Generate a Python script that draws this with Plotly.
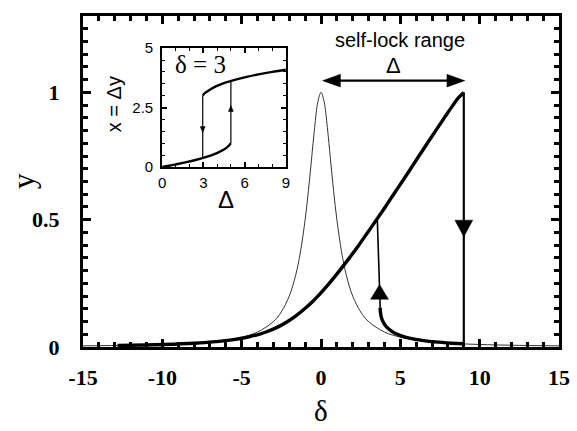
import plotly.graph_objects as go

# ---------------- data ----------------
# thin curve: linear response (main panel)
lor_delta = [-15, -12, -10, -8, -6, -5, -4, -3, -2.5, -2, -1.6, -1.3, -1, -0.8, -0.6, -0.4, -0.2, 0,
             0.2, 0.4, 0.6, 0.8, 1, 1.3, 1.6, 2, 2.5, 3, 4, 5, 6, 8, 10, 12, 15]
lor_y = [0.0044, 0.0069, 0.0099, 0.0154, 0.027, 0.0385, 0.0588, 0.100, 0.138, 0.200, 0.281, 0.372, 0.500,
         0.610, 0.735, 0.862, 0.962, 1.000,
         0.962, 0.862, 0.735, 0.610, 0.500, 0.372, 0.281, 0.200, 0.138, 0.100, 0.0588, 0.0385, 0.027,
         0.0154, 0.0099, 0.0069, 0.0044]

# thick curve: upper (self-locked) branch
upper_delta = [-12.82, -11.06, -9.86, -7.97, -6.82, -5.42, -4.54, -3.91, -3.42, -2.67, -2.10, -1.63, -1.03,
               -0.51, -0.05, 0.52, 1.17, 1.79, 2.38, 2.94, 3.50, 4.05, 4.58, 5.12, 5.65, 6.17, 6.70, 7.23,
               7.77, 8.32, 8.68, 9.0]
upper_y = [0.006, 0.008, 0.010, 0.015, 0.020, 0.030, 0.040, 0.050, 0.060, 0.080, 0.100, 0.120, 0.150,
           0.180, 0.210, 0.250, 0.300, 0.350, 0.400, 0.450, 0.500, 0.550, 0.600, 0.650, 0.700, 0.750,
           0.800, 0.850, 0.900, 0.950, 0.980, 1.000]

# thick curve: lower branch
lower_delta = [3.73, 3.74, 3.79, 3.90, 4.11, 4.50, 4.81, 5.26, 5.96, 6.47, 7.18, 8.24, 9.0]
lower_y = [0.155, 0.140, 0.120, 0.100, 0.080, 0.060, 0.050, 0.040, 0.030, 0.025, 0.020, 0.015, 0.0125]

# jumps
jump_up_delta = [3.73, 3.55]
jump_up_y = [0.155, 0.500]
drop_delta = [9.0, 9.0]
drop_y = [1.0, 0.0]

# arrow marks (tip positions)
arrow_up_tip = (3.69, 0.245)
arrow_down_tip = (9.0, 0.433)
range_arrow = (0.1, 9.06, 1.046)   # from, to, level

# inset: x = Delta*y versus Delta at delta = 3
inset_low_D = [0, 0.49, 0.99, 1.77, 2.49, 3.10, 3.63, 4.06, 4.67, 5.0]
inset_low_x = [0, 0.05, 0.107, 0.2, 0.3, 0.4, 0.5, 0.6, 0.8, 1.0]
inset_up_D = [2.95, 3.05, 3.33, 3.94, 4.90, 6.23, 8.0, 9.0]
inset_up_x = [3.0, 3.08, 3.2, 3.4, 3.6, 3.8, 4.0, 4.09]
inset_down_D = [2.95, 2.95]
inset_down_x = [3.0, 0.4]
inset_jump_D = [5.0, 5.0]
inset_jump_x = [1.0, 3.6]
inset_arrow_down_tip = (2.95, 1.45)
inset_arrow_up_tip = (5.0, 2.58)

# tick labels
x_ticks = [-15, -10, -5, 0, 5, 10, 15]
x_ticktext = ["-15", "-10", "-5", "0", "5", "10", "15"]
y_ticks = [0, 0.5, 1]
y_ticktext = ["0", "0.5", "1"]
inset_x_ticks = [0, 3, 6, 9]
inset_x_ticktext = ["0", "3", "6", "9"]
inset_y_ticks = [0, 2.5, 5]
inset_y_ticktext = ["0", "2.5", "5"]

# ---------------- geometry ----------------
W, H = 577, 431
L, R, T, B = 83, 13, 7, 84
plot_w, plot_h = W - L - R, H - T - B
XR = (-15, 15)
YR = (0, 1.3)
sx = plot_w / (XR[1] - XR[0])
sy = plot_h / (YR[1] - YR[0])

inset_px = (163, 288, 40, 162)  # left, right, top, bottom
ix0 = (inset_px[0] - L) / plot_w
ix1 = (inset_px[1] - L) / plot_w
iy0 = (H - B - inset_px[3]) / plot_h
iy1 = (H - B - inset_px[2]) / plot_h
IXR = (0, 9)
IYR = (0, 5)
isx = (inset_px[1] - inset_px[0]) / (IXR[1] - IXR[0])
isy = (inset_px[3] - inset_px[2]) / (IYR[1] - IYR[0])


def tri(tip, direction, length_px, width_px, scx, scy, xref, yref):
    tx, ty = tip
    if direction == "up":
        pts = [(tx, ty), (tx - width_px / 2 / scx, ty - length_px / scy), (tx + width_px / 2 / scx, ty - length_px / scy)]
    elif direction == "down":
        pts = [(tx, ty), (tx - width_px / 2 / scx, ty + length_px / scy), (tx + width_px / 2 / scx, ty + length_px / scy)]
    elif direction == "left":
        pts = [(tx, ty), (tx + length_px / scx, ty + width_px / 2 / scy), (tx + length_px / scx, ty - width_px / 2 / scy)]
    else:
        pts = [(tx, ty), (tx - length_px / scx, ty + width_px / 2 / scy), (tx - length_px / scx, ty - width_px / 2 / scy)]
    path = "M{},{} L{},{} L{},{} Z".format(pts[0][0], pts[0][1], pts[1][0], pts[1][1], pts[2][0], pts[2][1])
    return dict(type="path", path=path, xref=xref, yref=yref, fillcolor="black",
                line=dict(color="black", width=0.5))


fig = go.Figure()
blk = "black"
fig.add_trace(go.Scatter(x=lor_delta, y=lor_y, mode="lines", line=dict(color="#333333", width=1, shape="spline"),
                         showlegend=False, hoverinfo="skip"))
fig.add_trace(go.Scatter(x=upper_delta, y=upper_y, mode="lines", line=dict(color=blk, width=3.4, shape="spline"),
                         showlegend=False, hoverinfo="skip"))
fig.add_trace(go.Scatter(x=lower_delta, y=lower_y, mode="lines", line=dict(color=blk, width=3.4, shape="spline"),
                         showlegend=False, hoverinfo="skip"))
fig.add_trace(go.Scatter(x=jump_up_delta, y=jump_up_y, mode="lines", line=dict(color=blk, width=1.6),
                         showlegend=False, hoverinfo="skip"))
fig.add_trace(go.Scatter(x=drop_delta, y=drop_y, mode="lines", line=dict(color=blk, width=2.2),
                         showlegend=False, hoverinfo="skip"))
fig.add_trace(go.Scatter(x=[range_arrow[0] + 0.5, range_arrow[1] - 0.5], y=[range_arrow[2], range_arrow[2]],
                         mode="lines", line=dict(color=blk, width=2.2), showlegend=False, hoverinfo="skip"))

# inset traces
fig.add_trace(go.Scatter(x=inset_low_D, y=inset_low_x, xaxis="x2", yaxis="y2", mode="lines",
                         line=dict(color=blk, width=2.4, shape="spline"), showlegend=False, hoverinfo="skip"))
fig.add_trace(go.Scatter(x=inset_up_D, y=inset_up_x, xaxis="x2", yaxis="y2", mode="lines",
                         line=dict(color=blk, width=2.4, shape="spline"), showlegend=False, hoverinfo="skip"))
fig.add_trace(go.Scatter(x=inset_down_D, y=inset_down_x, xaxis="x2", yaxis="y2", mode="lines",
                         line=dict(color=blk, width=1.2), showlegend=False, hoverinfo="skip"))
fig.add_trace(go.Scatter(x=inset_jump_D, y=inset_jump_x, xaxis="x2", yaxis="y2", mode="lines",
                         line=dict(color=blk, width=1.2), showlegend=False, hoverinfo="skip"))

shapes = [
    tri(arrow_up_tip, "up", 15, 18, sx, sy, "x", "y"),
    tri(arrow_down_tip, "down", 17, 18, sx, sy, "x", "y"),
    tri((range_arrow[0], range_arrow[2]), "left", 18, 13, sx, sy, "x", "y"),
    tri((range_arrow[1], range_arrow[2]), "right", 18, 13, sx, sy, "x", "y"),
    tri(inset_arrow_down_tip, "down", 6, 5, isx, isy, "x2", "y2"),
    tri(inset_arrow_up_tip, "up", 6, 5, isx, isy, "x2", "y2"),
]

serif = "Liberation Serif"
sans = "Liberation Sans"

main_axis = dict(showline=True, linecolor=blk, linewidth=3, mirror="allticks", ticks="inside",
                 ticklen=8, tickwidth=2.5, tickcolor=blk, showgrid=False, zeroline=False,
                 tickfont=dict(family=serif, size=22, color=blk, weight="bold"))
inset_axis = dict(showline=True, linecolor=blk, linewidth=2, mirror="allticks", ticks="inside",
                  ticklen=5, tickwidth=1.5, tickcolor=blk, showgrid=False, zeroline=False,
                  tickfont=dict(family=sans, size=15, color=blk))

fig.update_layout(
    width=W, height=H,
    margin=dict(l=L, r=R, t=T, b=B),
    paper_bgcolor="white", plot_bgcolor="white",
    xaxis=dict(main_axis, range=list(XR), tickmode="array", tickvals=x_ticks, ticktext=x_ticktext,
               ticklabelstandoff=9,
               minor=dict(dtick=1, tick0=0, ticklen=5, tickwidth=2.5, tickcolor=blk, ticks="inside")),
    yaxis=dict(main_axis, range=list(YR), tickmode="array", tickvals=y_ticks, ticktext=y_ticktext,
               ticklabelstandoff=16,
               minor=dict(dtick=0.05, tick0=0, ticklen=5, tickwidth=2.5, tickcolor=blk, ticks="inside")),
    xaxis2=dict(inset_axis, domain=[ix0, ix1], anchor="y2", range=list(IXR), tickmode="array",
                tickvals=inset_x_ticks, ticktext=inset_x_ticktext, ticklabelstandoff=1,
                minor=dict(dtick=1, tick0=0, ticklen=3, tickwidth=1.2, tickcolor=blk, ticks="inside")),
    yaxis2=dict(inset_axis, domain=[iy0, iy1], anchor="x2", range=list(IYR), tickmode="array",
                tickvals=inset_y_ticks, ticktext=inset_y_ticktext, ticklabelstandoff=4,
                minor=dict(dtick=0.5, tick0=0, ticklen=3, tickwidth=1.2, tickcolor=blk, ticks="inside")),
    shapes=shapes,
    annotations=[
        dict(text="y", x=(22 - L) / plot_w, y=0.5, xref="paper", yref="paper", showarrow=False,
             textangle=-90, font=dict(family=serif, size=32, color=blk), xanchor="center", yanchor="middle"),
        dict(text="δ", x=0, y=-(B - 1) / plot_h, xref="x", yref="paper", showarrow=False,
             font=dict(family=serif, size=29, color=blk), xanchor="center", yanchor="bottom",
             borderpad=0),
        dict(text="self-lock range", x=5.0, y=1.206, xref="x", yref="y", showarrow=False,
             font=dict(family=sans, size=20, color=blk), xanchor="center", yanchor="middle"),
        dict(text="Δ", x=4.6, y=1.104, xref="x", yref="y", showarrow=False,
             font=dict(family=sans, size=22, color=blk), xanchor="center", yanchor="middle"),
        dict(text="x = Δy", x=(114 - L) / plot_w, y=(H - B - 98) / plot_h, xref="paper", yref="paper",
             showarrow=False, textangle=-90, font=dict(family=sans, size=20, color=blk),
             xanchor="center", yanchor="middle"),
        dict(text="Δ", x=(227 - L) / plot_w, y=(H - B - 195) / plot_h, xref="paper", yref="paper",
             showarrow=False, font=dict(family=sans, size=24, color=blk), xanchor="center", yanchor="middle"),
        dict(text="δ = 3", x=(202 - L) / plot_w, y=(H - B - 57) / plot_h, xref="paper", yref="paper",
             showarrow=False, font=dict(family=serif, size=25, color=blk), xanchor="center", yanchor="middle"),
    ],
)

fig.write_html("out.html", config={"displayModeBar": False},
               post_script="document.body.style.margin='0';document.body.style.padding='0';")
